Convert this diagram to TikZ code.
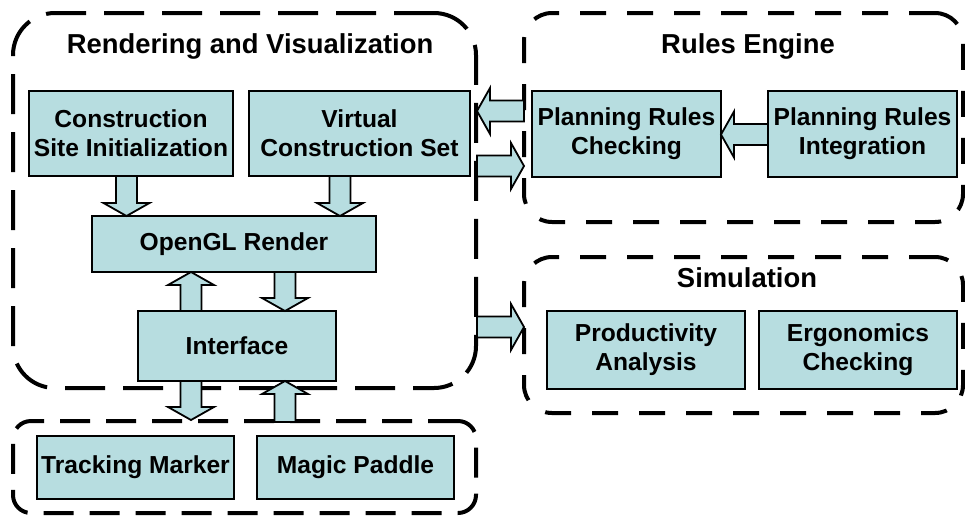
\documentclass[tikz,border=0pt]{standalone}
\usepackage{fontspec}
\setmainfont{Liberation Sans}
\usetikzlibrary{calc}
\definecolor{boxfill}{RGB}{183,221,224}
\tikzset{
  comp/.style={draw=black, line width=1.8pt, fill=boxfill, inner sep=0pt, outer sep=0pt,
    align=center, font=\fontsize{24.6}{29}\selectfont\bfseries},
  group/.style={draw=black, line width=4pt, inner sep=0pt, outer sep=0pt},
  grouptitle/.style={anchor=base, inner sep=0pt, font=\fontsize{27.4}{32}\selectfont\bfseries},
  barrowstyle/.style={draw=black, line width=1.8pt, fill=boxfill, line join=miter}
}
\newcommand\barrow[2]{%
  \coordinate (ba-s) at #1;
  \coordinate (ba-e) at #2;
  \coordinate (ba-h) at ($(ba-e)!13pt!(ba-s)$);
  \draw[barrowstyle] ($(ba-s)!10.5pt!90:(ba-e)$) -- ($(ba-h)!10.5pt!-90:(ba-s)$)
    -- ($(ba-h)!23pt!-90:(ba-s)$) -- (ba-e) -- ($(ba-h)!23pt!90:(ba-s)$)
    -- ($(ba-h)!10.5pt!90:(ba-s)$) -- ($(ba-s)!10.5pt!-90:(ba-e)$) -- cycle;
}
\begin{document}
\begin{tikzpicture}[x=1pt, y=-1pt]
\useasboundingbox (0,0) rectangle (965,515);
% groups
\node[group, rounded corners=42pt, dash pattern=on 40pt off 18pt,
  minimum width=463pt, minimum height=375pt] (rv) at (244.5,200.5) {};
\node[group, rounded corners=28pt, dash pattern=on 26pt off 21pt,
  minimum width=439pt, minimum height=209pt] (re) at (743.5,117.5) {};
\node[group, rounded corners=28pt, dash pattern=on 26pt off 21pt,
  minimum width=439pt, minimum height=156pt] (sim) at (743.5,335) {};
\node[group, rounded corners=18pt, dash pattern=on 30pt off 16pt,
  minimum width=463pt, minimum height=92pt] (dev) at (244.5,467) {};
\node[grouptitle] (rvt) at (250,53) {Rendering and Visualization};
\node[grouptitle] (ret) at (748,53) {Rules Engine};
\node[grouptitle] (simt) at (747,287) {Simulation};
% components
\node[comp, minimum width=204pt, minimum height=85pt] (csi) at (131,133.5) {Construction\\Site Initialization};
\node[comp, minimum width=221pt, minimum height=85pt] (vcs) at (359.5,133.5) {Virtual\\Construction Set};
\node[comp, minimum width=284pt, minimum height=56pt] (ogl) at (234,244) {OpenGL Render};
\node[comp, minimum width=198pt, minimum height=70pt] (intf) at (237,346) {Interface};
\node[comp, minimum width=197pt, minimum height=63pt] (tm) at (135.5,467.5) {Tracking Marker};
\node[comp, minimum width=197pt, minimum height=63pt] (mp) at (355.5,467.5) {Magic Paddle};
\node[comp, minimum width=189pt, minimum height=86pt] (prc) at (626.5,134) {Planning Rules\\Checking};
\node[comp, minimum width=189pt, minimum height=86pt] (pri) at (862.5,134) {Planning Rules\\Integration};
\node[comp, minimum width=198pt, minimum height=78pt] (pa) at (646,350) {Productivity\\Analysis};
\node[comp, minimum width=198pt, minimum height=78pt] (ec) at (858,350) {Ergonomics\\Checking};
% connector anchors
\coordinate (c1) at ($(csi.south)+(-4.5,0)$);
\coordinate (c2) at ($(vcs.south)+(-19.5,0)$);
\coordinate (c3) at ($(intf.north)+(-46,0)$);
\coordinate (c4) at ($(intf.north)+(48,0)$);
\coordinate (c7) at ($(pri.west)+(0,0.5)$);
\coordinate (c8) at (re.west |- 0,111);
\coordinate (c9) at (rv.east |- 0,166);
\coordinate (c10) at (rv.east |- 0,327);
% block arrows
\barrow{(c1)}{(c1 |- ogl.north)}
\barrow{(c2)}{(c2 |- ogl.north)}
\barrow{(c3)}{(c3 |- ogl.south)}
\barrow{(c4 |- ogl.south)}{(c4)}
\barrow{(c3 |- intf.south)}{($(c3 |- dev.north)+(0,-1)$)}
\barrow{($(c4 |- dev.north)+(0,1)$)}{(c4 |- intf.south)}
\barrow{(c7)}{(c7 -| prc.east)}
\barrow{(c8)}{($(c8 -| rv.east)+(1,0)$)}
\barrow{($(c9)+(1,0)$)}{(c9 -| re.west)}
\barrow{($(c10)+(1,0)$)}{(c10 -| sim.west)}
\end{tikzpicture}
\end{document}
